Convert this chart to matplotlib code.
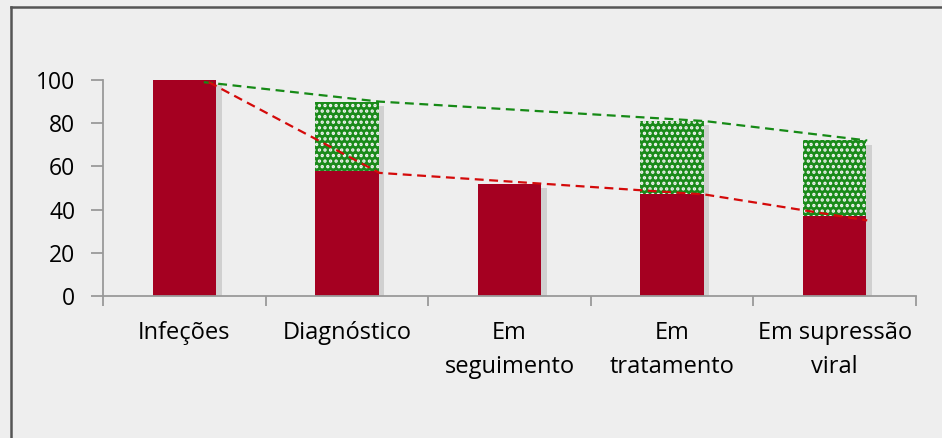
import numpy as np
import matplotlib.pyplot as plt
from matplotlib import patheffects
from matplotlib.lines import Line2D

# Cascata de cuidados: categorias e valores (%)
categorias = ["Infeções", "Diagnóstico", "Em\nseguimento", "Em\ntratamento", "Em supressão\nviral"]
base = [100, 58, 52, 47, 37]          # barras vermelhas
extra = [0, 32, 0, 34, 35]            # parte verde (pontilhada) por cima

# Linhas de tendência tracejadas
linha_vermelha_x = [0.15, 1.2, 2.2, 3.2, 4.2]
linha_vermelha_y = [99, 57, 52, 47, 35]
linha_verde_x = [0.12, 1.2, 3.2, 4.2]
linha_verde_y = [99, 90, 81, 72]

plt.rcParams['font.family'] = ['Open Sans', 'DejaVu Sans']
plt.rcParams['hatch.linewidth'] = 1.6

fundo = '#eeeeee'
fig = plt.figure(figsize=(9.42, 4.38), dpi=100, facecolor=fundo)
ax = fig.add_axes([103/942, 1 - 296/438, (916 - 103)/942, (296 - 80)/438])
ax.set_facecolor('none')

x = np.arange(len(categorias))
largura = 0.39
total = np.array(base) + np.array(extra)

# sombra suave por trás de cada coluna empilhada
ax.bar(x, total, width=largura, color='none', linewidth=0, zorder=1,
       path_effects=[patheffects.SimplePatchShadow(offset=(4, -3), shadow_rgbFace='#777777', alpha=0.25)])
ax.bar(x, base, width=largura, color='#a50021', linewidth=0, zorder=2)
ax.bar(x, extra, bottom=base, width=largura, color='#1a8a1a',
       edgecolor='#f4f4f4', hatch='...', linewidth=0, zorder=2)

ax.plot(linha_verde_x, linha_verde_y, color='#168a16', lw=1.6, ls=(0, (4, 2.5)), zorder=3)
ax.plot(linha_vermelha_x, linha_vermelha_y, color='#d40a0a', lw=1.6, ls=(0, (4, 2.5)), zorder=3)

ax.set_ylim(0, 100)
ax.set_xlim(-0.5, len(categorias) - 0.5)
ax.set_yticks(range(0, 101, 20))
ax.set_xticks(np.arange(len(categorias) + 1) - 0.5, minor=False)
ax.set_xticklabels([])
ax.set_xticks(x, minor=True)
ax.set_xticklabels(categorias, minor=True, fontsize=17, linespacing=1.55, va='top')
ax.tick_params(axis='x', which='minor', length=0, pad=18)
ax.tick_params(axis='x', which='major', length=7, color='#999999', width=1.3)
ax.tick_params(axis='y', length=9, color='#999999', width=1.3, labelsize=16.5, pad=11)

for lado in ['top', 'right']:
    ax.spines[lado].set_visible(False)
for lado in ['left', 'bottom']:
    ax.spines[lado].set_color('#999999')
    ax.spines[lado].set_linewidth(1.3)

# Moldura exterior
fig.add_artist(Line2D([11/942, 11/942], [0, 1 - 7/438], color='#555555', lw=1.8))
fig.add_artist(Line2D([11/942, 1], [1 - 7/438, 1 - 7/438], color='#555555', lw=1.8))

fig.savefig('out.png', dpi=100, facecolor=fundo)
